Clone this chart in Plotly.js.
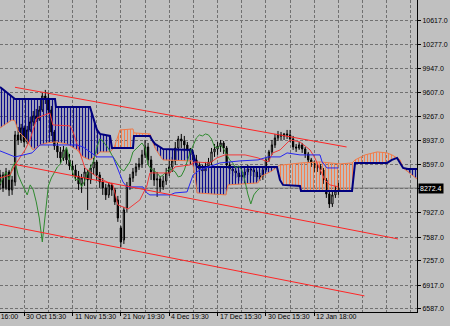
<!DOCTYPE html>
<html><head><meta charset="utf-8">
<script src="https://cdn.plot.ly/plotly-3.0.1.min.js"></script>
<style>html,body{margin:0;padding:0;background:#c0c0c0;}#chart{width:450px;height:326px;}</style>
</head><body><div id="chart"></div>
<script>
// ---- candles (bar index 0..112) ----
const openP = [8317,8456,8275,8498,8247,8358,9015,8945,9113,8917,
9085,9197,9281,9239,9364,9560,9532,9364,9057,8861,
8778,8694,8806,8666,8582,8526,8442,8331,8414,8498,
8386,8554,8638,8456,8358,8275,8177,8317,8247,8107,
7716,7548,7995,8303,8414,8498,8568,8610,8736,8847,
8666,8498,8386,8400,8289,8372,8484,8568,8652,8833,
8959,8931,8875,8819,8736,8666,8596,8540,8512,8582,
8638,8778,8819,8861,8903,8833,8596,8540,8512,8484,
8428,8456,8498,8540,8526,8498,8428,8442,8526,8666,
8778,8875,8973,9015,9001,9029,9015,8959,8847,8833,
8875,8819,8750,8666,8624,8554,8582,8526,8386,8191,
8051,8177,8233];
const highP = [8526,8498,8554,8526,8442,9071,9127,9169,9141,9141,
9267,9350,9378,9420,9602,9644,9602,9420,9085,8917,
8847,8861,8833,8750,8652,8596,8512,8470,8554,8526,
8596,8694,8666,8498,8414,8331,8358,8345,8275,8163,
7744,8009,8358,8470,8554,8624,8694,8806,8945,8903,
8722,8554,8498,8442,8442,8554,8666,8708,8917,9001,
9029,9001,8917,8833,8778,8736,8638,8596,8638,8694,
8833,8889,8917,8945,8931,8861,8638,8582,8554,8526,
8498,8540,8596,8582,8568,8526,8484,8568,8708,8806,
8945,9029,9071,9057,9043,9085,9085,9001,8889,8917,
8903,8847,8778,8694,8652,8610,8610,8554,8414,8247,
8219,8303,8345];
const lowP = [8247,8219,8247,8163,8177,8303,8875,8903,8847,8889,
9057,9141,9197,9211,9336,9448,9308,9001,8806,8694,
8624,8652,8610,8526,8442,8372,8247,8205,8303,7967,
8331,8456,8386,8275,8177,8107,8135,8163,8037,7800,
7450,7492,7939,8247,8358,8442,8526,8554,8694,8596,
8386,8303,8149,8219,8247,8317,8442,8498,8596,8778,
8833,8778,8694,8596,8582,8526,8470,8442,8456,8526,
8596,8708,8736,8778,8750,8554,8470,8442,8414,8372,
8372,8414,8456,8442,8428,8372,8372,8386,8498,8638,
8736,8833,8931,8945,8945,8959,8917,8806,8778,8806,
8764,8694,8624,8568,8498,8498,8456,8331,8135,7995,
8009,8135,8177];
const closeP = [8456,8275,8498,8247,8386,9015,8945,9113,8917,9085,
9197,9281,9239,9364,9560,9532,9364,9057,8861,8778,
8694,8806,8666,8582,8526,8442,8331,8414,8498,8386,
8554,8638,8456,8358,8275,8177,8317,8247,8079,7855,
7520,7967,8303,8414,8498,8568,8610,8736,8847,8666,
8498,8386,8400,8289,8372,8484,8568,8652,8833,8959,
8931,8875,8819,8736,8666,8596,8540,8512,8582,8638,
8778,8819,8861,8903,8833,8596,8540,8512,8484,8428,
8456,8498,8540,8526,8498,8428,8442,8526,8666,8778,
8875,8973,9015,9001,9029,9015,8959,8847,8833,8875,
8819,8750,8666,8624,8554,8582,8526,8386,8191,8051,
8177,8233,8272.4];

// ---- Ichimoku lines (vertices) ----
const tenkanX = [0,3.3,5.0,8.3,9.9,12.2,16.5,17.5,23.2,24.2,25.8,28.1,32.1,37.4,39.0,42.4,46.3,48.6,49.6,56.3,57.9,62.9,64.5,69.5,71.8,74.5,81.1,85.4,88.7,90.3,92.7,96.0,99.3,102.6,104.2,105.9,107.5,109.2,112];
const tenkanY = [8414,8456,8596,8806,8945,9253,9322,9155,9141,9057,8847,8554,8428,8317,8037,7981,8107,8303,8484,8484,8568,8596,8638,8624,8694,8736,8736,8694,8638,8764,8806,8945,8917,8806,8694,8526,8386,8317,8289];
const kijunX = [0,4.0,5.0,10.6,13.2,25.5,27.5,29.8,32.1,37.4,39.0,40.7,42.0,47.3,48.6,49.6,56.3,57.9,61.9,63.9,65.2,66.2,72.8,79.4,85.4,88.7,92.7,95.0,99.3,105.9,106.6,108.2,112];
const kijunY = [8792,8722,8708,8764,8875,8875,8847,8778,8708,8708,8526,8358,8289,8289,8205,8177,8177,8205,8219,8456,8498,8526,8624,8652,8666,8708,8708,8764,8736,8736,8638,8554,8554];
const cloudX = [0,3.97,4.96,5.96,8.27,10.92,13.24,15.55,18.2,18.53,22.17,25.48,27.47,29.78,32.1,33.09,36.4,37.06,37.72,39.71,44.01,44.34,49.64,50.3,51.29,52.95,53.94,63.53,64.53,65.19,74.79,75.45,85.37,86.70,90.01,91.66,92.65,93.65,99.27,99.60,105.9,112.5,116.5,117.5,120.8,124.8,128.1,129.7,131.4,132.4,133.4,135.0,138];
const spanA = [9113,9225,9211,9071,8973,8806,8875,8903,8917,8917,8889,8806,8708,8666,8736,8778,8778,8806,8833,9085,9099,9043,9029,8945,8833,8722,8666,8652,8456,8205,8177,8317,8345,8442,8512,8568,8596,8596,8624,8624,8638,8610,8624,8666,8736,8778,8764,8736,8694,8666,8554,8498,8400];
const spanB = [9686,9546,9518,9518,9518,9518,9518,9518,9518,9406,9406,9406,9406,9406,9085,9029,9001,8833,8833,8833,8833,9001,9001,8945,8889,8847,8819,8806,8666,8568,8568,8568,8568,8568,8568,8568,8386,8317,8303,8233,8233,8233,8233,8624,8624,8624,8624,8666,8694,8624,8554,8540,8540];
const chikouShift = 26;

// ---- channel lines ----
const trendX0 = [4.96, 4.96, 0];
const trendY0 = [9681, 8603, 7767];
const trendX1 = [114.7, 131.7, 120.6];
const trendY1 = [8847, 7562, 6766];

// ---- axes ----
const dateTicks = [-8, 8, 24, 40, 56, 72, 88, 104];
const dateLabels = ['8 Oct 16:00','30 Oct 15:30','11 Nov 15:30','21 Nov 19:30','4 Dec 19:30','17 Dec 15:30','30 Dec 15:30','12 Jan 18:00'];
const priceTicks = [10617,10277,9947,9607,9267,8937,8597,8262,7927,7587,7257,6917,6587];
const priceLabels = ['10617.0','10277.0','9947.0','9607.0','9267.0','8937.0','8597.0','','7927.0','7587.0','7257.0','6917.0','6587.0'];

const xr = [0, 138];
const yr = [6540.9, 10900.7];
const gridColor = '#707070';
const gridDash = '3px,2px';
const BLUE_CLOUD = '#0a0a8c';
const ORANGE_CLOUD = '#f5804f';

const traces = [];
let k0 = 0;
function signAt(k){ return (spanA[k]+spanA[k+1]) - (spanB[k]+spanB[k+1]) > 0; }
for (let k = 0; k < cloudX.length - 1; k++) {
  const last = (k === cloudX.length - 2) || (signAt(k+1) !== signAt(k));
  if (last) {
    const k1 = k + 1;
    const xs = cloudX.slice(k0, k1+1);
    const ya = spanA.slice(k0, k1+1);
    const yb = spanB.slice(k0, k1+1).reverse();
    const up = signAt(k);
    traces.push({type:'scatter', mode:'none', x: xs.concat(xs.slice().reverse()), y: ya.concat(yb),
      fill:'toself', fillcolor:'rgba(0,0,0,0)', hoverinfo:'skip',
      fillpattern:{shape:'|', fgcolor: up ? ORANGE_CLOUD : BLUE_CLOUD, bgcolor:'rgba(0,0,0,0)', size:3, solidity: up ? 0.36 : 0.45}});
    k0 = k1;
  }
}
traces.push({type:'scatter', mode:'lines', x: cloudX, y: spanA, line:{color:'#f07a48', width:1}, hoverinfo:'skip'});
traces.push({type:'scatter', mode:'lines', x: cloudX, y: spanB, line:{color:'#00007e', width:2}, hoverinfo:'skip'});
traces.push({type:'scatter', mode:'lines', x: closeP.map((_, i) => i - chikouShift), y: closeP, line:{color:'#2f8a2f', width:1}, hoverinfo:'skip'});
traces.push({type:'candlestick', x: closeP.map((_, i) => i), open: openP, high: highP, low: lowP, close: closeP,
  increasing:{line:{color:'#000', width:1}, fillcolor:'#ffffff'},
  decreasing:{line:{color:'#000', width:1}, fillcolor:'#000000'}, whiskerwidth:0, hoverinfo:'skip'});
traces.push({type:'scatter', mode:'lines', x: tenkanX, y: tenkanY, line:{color:'#f23a3a', width:1}, hoverinfo:'skip'});
traces.push({type:'scatter', mode:'lines', x: kijunX, y: kijunY, line:{color:'#2626f0', width:1}, hoverinfo:'skip'});
for (let t = 0; t < trendX0.length; t++) {
  traces.push({type:'scatter', mode:'lines', x:[trendX0[t], trendX1[t]], y:[trendY0[t], trendY1[t]], line:{color:'#ff2626', width:1}, hoverinfo:'skip'});
}

const lastClose = closeP[closeP.length - 1];
const majorTicks = dateTicks.filter(v => v >= xr[0]);
const annotations = dateTicks.map((v, i) => ({
  xref:'paper', x:(v - xr[0]) / (xr[1] - xr[0]), xanchor:'left', xshift: v < xr[0] ? 4 : 0,
  yref:'paper', y:0, yanchor:'top', yshift:1,
  text: dateLabels[i], showarrow:false, font:{size:7, color:'#000'}
}));
annotations.push({xref:'paper', x:1, xanchor:'left', xshift:1, yref:'y', y:lastClose, yanchor:'middle',
  text:lastClose.toFixed(1), showarrow:false, bgcolor:'#000', borderpad:1, font:{size:7, color:'#fff'}});

const layout = {
  width:450, height:326,
  margin:{l:0, r:33, t:0, b:14, pad:0},
  paper_bgcolor:'#c0c0c0', plot_bgcolor:'#c0c0c0',
  showlegend:false, boxgap:0.4,
  font:{family:'Liberation Sans, Arial, sans-serif', size:7, color:'#000'},
  xaxis:{range:xr, rangeslider:{visible:false}, showline:true, linecolor:'#000', linewidth:1, zeroline:false,
    tickmode:'array', tickvals:majorTicks, ticktext:majorTicks.map(() => ''), ticks:'outside', ticklen:3, tickcolor:'#000',
    showgrid:true, gridcolor:gridColor, griddash:gridDash, gridwidth:1,
    minor:{tickmode:'linear', tick0:0, dtick:8, showgrid:true, gridcolor:gridColor, griddash:gridDash, gridwidth:1, ticks:''}},
  yaxis:{range:yr, side:'right', showline:true, linecolor:'#000', linewidth:1, zeroline:false,
    tickmode:'array', tickvals:priceTicks, ticktext:priceLabels, ticks:'outside', ticklen:3, tickcolor:'#000',
    showgrid:true, gridcolor:gridColor, griddash:gridDash, gridwidth:1, tickfont:{size:7}},
  shapes:[{type:'line', xref:'paper', x0:0, x1:1, yref:'y', y0:lastClose, y1:lastClose, line:{color:'#7a7a7a', width:1}, layer:'below'}],
  annotations: annotations
};
Plotly.newPlot('chart', traces, layout, {staticPlot:true, displayModeBar:false});
</script></body></html>
